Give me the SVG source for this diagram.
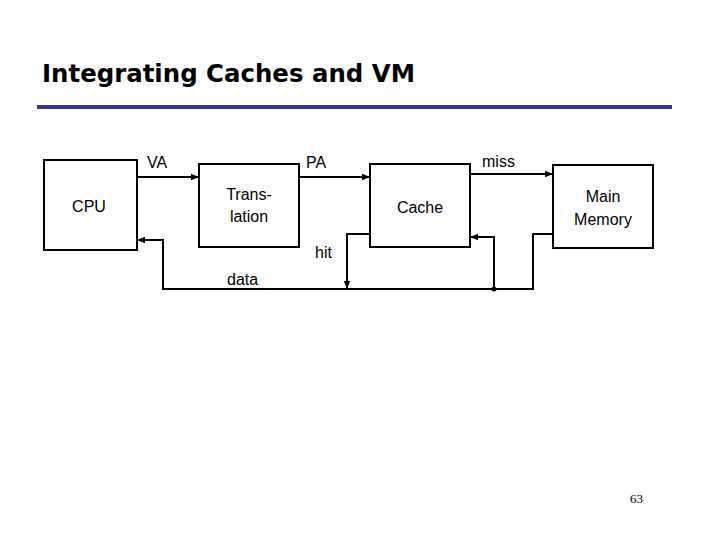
<svg xmlns="http://www.w3.org/2000/svg" width="720" height="540" viewBox="0 0 720 540">
<defs>
<marker id="ah" viewBox="0 0 10 10" refX="10" refY="5" markerWidth="8" markerHeight="8" markerUnits="userSpaceOnUse" orient="auto">
<path d="M0,1 L10,5 L0,9 Z" fill="#000"/>
</marker>
</defs>
<style>
.box{fill:#fff;stroke:#000;stroke-width:2}
.ln{fill:none;stroke:#000;stroke-width:2}
.lbl{font-family:"Liberation Sans",Arial,sans-serif;font-size:16px;fill:#000}
.c{text-anchor:middle}
</style>
<rect width="720" height="540" fill="#fff"/>
<text x="42" y="82" font-family="'DejaVu Sans',sans-serif" font-weight="bold" font-size="25" textLength="373" lengthAdjust="spacingAndGlyphs" fill="#000">Integrating Caches and VM</text>
<line x1="37" y1="107" x2="672" y2="107" stroke="#333399" stroke-width="4"/>
<g id="cpu"><rect class="box" x="44" y="160" width="93" height="90"/><text class="lbl c" x="89" y="212">CPU</text></g>
<g id="translation"><rect class="box" x="199" y="164" width="100" height="83"/><text class="lbl c" x="249" y="200">Trans-</text><text class="lbl c" x="249" y="222">lation</text></g>
<g id="cache"><rect class="box" x="370" y="164" width="100" height="83"/><text class="lbl c" x="420" y="213">Cache</text></g>
<g id="memory"><rect class="box" x="553" y="165" width="100" height="83"/><text class="lbl c" x="603" y="202">Main</text><text class="lbl c" x="603" y="225">Memory</text></g>
<g id="connectors">
<line class="ln" x1="137" y1="177" x2="199" y2="177" marker-end="url(#ah)"/>
<line class="ln" x1="299" y1="177" x2="370" y2="177" marker-end="url(#ah)"/>
<line class="ln" x1="470" y1="174" x2="553" y2="174" marker-end="url(#ah)"/>
<polyline class="ln" points="370,234 347,234 347,289" marker-end="url(#ah)"/>
<polyline class="ln" points="553,234 533,234 533,289 163,289 163,240 137,240" marker-end="url(#ah)"/>
<polyline class="ln" points="494,289 494,237 470,237" marker-end="url(#ah)"/>
<circle cx="494" cy="289" r="2.5" fill="#000"/>
<text class="lbl" x="147" y="168">VA</text>
<text class="lbl" x="306" y="168">PA</text>
<text class="lbl" x="482" y="167">miss</text>
<text class="lbl" x="315" y="258">hit</text>
<text class="lbl" x="227" y="285">data</text>
</g>
<text x="630" y="503" font-family="'Liberation Serif',serif" font-size="13" fill="#000">63</text>
</svg>
